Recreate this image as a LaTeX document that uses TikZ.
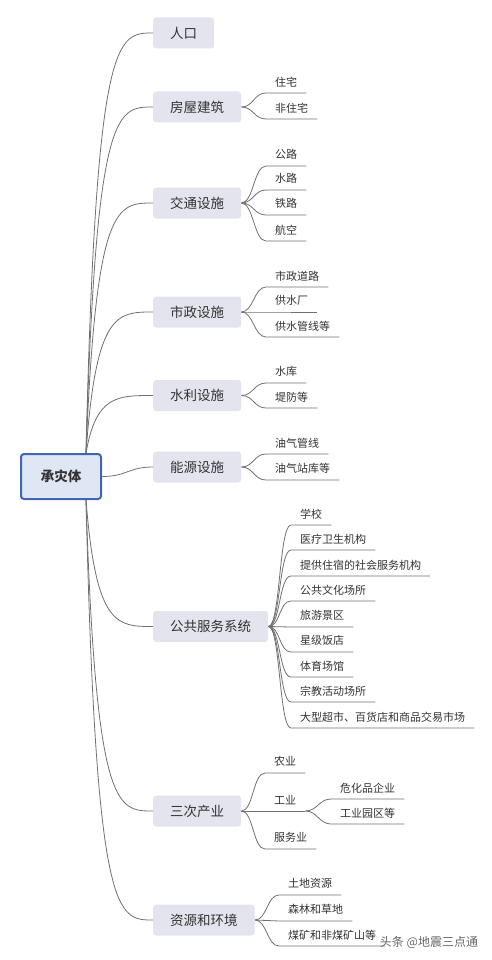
\documentclass[tikz,border=0pt]{standalone}
\usepackage{fontspec}
\setmainfont{Noto Sans CJK SC}
\usetikzlibrary{positioning,calc}

\definecolor{lineGray}{HTML}{707070}
\definecolor{textGray}{HTML}{333333}
\definecolor{rootBlue}{HTML}{4166B4}
\definecolor{rootFill}{HTML}{DFE6F4}
\definecolor{topicFill}{HTML}{E4E4EF}
\definecolor{markGray}{HTML}{666666}

\begin{document}
\begin{tikzpicture}[x=1pt, y=-1pt,
		every node/.style={text=textGray},
		rootTopic/.style={
				draw=rootBlue, line width=2pt, fill=rootFill,
				rounded corners=3pt, minimum width=80pt, minimum height=45pt,
				font=\fontsize{13.5}{16}\selectfont\bfseries
			},
		mainTopic/.style={
				fill=topicFill, rounded corners=3pt, anchor=west,
				minimum height=31pt, inner xsep=17pt, inner ysep=0pt,
				font=\fontsize{13.5}{16}\selectfont
			},
		subTopic/.style={
				anchor=south west, minimum height=22pt,
				inner xsep=9pt, inner ysep=0pt,
				font=\fontsize{11}{13}\selectfont
			},
		branch/.style={draw=lineGray, line width=0.8pt}
	]

	\useasboundingbox (0,0) rectangle (492,960);

	% Central topic
	\node[rootTopic] (root) at (61,476.5) {承灾体};
	\coordinate (rUp) at ([xshift=-16pt]root.north east);
	\coordinate (rDown) at ([xshift=-16pt]root.south east);

	% Main topics
	\node[mainTopic] (T1) at (153,33) {人口};
	\node[mainTopic] (T2) at (153,107) {房屋建筑};
	\node[mainTopic] (T3) at (153,203) {交通设施};
	\node[mainTopic] (T4) at (153,312) {市政设施};
	\node[mainTopic] (T5) at (153,395.5) {水利设施};
	\node[mainTopic] (T6) at (153,467) {能源设施};
	\node[mainTopic] (T7) at (153,626.5) {公共服务系统};
	\node[mainTopic] (T8) at (153,811) {三次产业};
	\node[mainTopic] (T9) at (153,920) {资源和环境};

	\foreach \t in {T1,T2,T3,T4,T5}
	\draw[branch] (rUp) .. controls ($(rUp |- \t.west)+(10,0)$) and ($(\t.west)+(-36,0)$) .. (\t.west);
	\foreach \t in {T7,T8,T9}
	\draw[branch] (rDown) .. controls ($(rDown |- \t.west)+(10,0)$) and ($(\t.west)+(-36,0)$) .. (\t.west);
	\draw[branch] (root.east) .. controls +(25,0) and +(-25,0) .. (T6.west);

	% Subtopics
	\node[subTopic] (T2a) at (266,93) {住宅};
	\node[subTopic] (T2b) at (266,119) {非住宅};

	\node[subTopic] (T3a) at (266,166) {公路};
	\node[subTopic] (T3b) at (266,190) {水路};
	\node[subTopic] (T3c) at (266,215) {铁路};
	\node[subTopic] (T3d) at (266,241) {航空};

	\node[subTopic] (T4a) at (266,287) {市政道路};
	\node[subTopic] (T4b) at (266,312) {供水厂};
	\node[subTopic] (T4c) at (266,337) {供水管线等};

	\node[subTopic] (T5a) at (266,383) {水库};
	\node[subTopic] (T5b) at (266,408) {堤防等};

	\node[subTopic] (T6a) at (266,454) {油气管线};
	\node[subTopic] (T6b) at (266,480) {油气站库等};

	\node[subTopic] (T7a) at (291,525) {学校};
	\node[subTopic] (T7b) at (291,550) {医疗卫生机构};
	\node[subTopic] (T7c) at (291,576) {提供住宿的社会服务机构};
	\node[subTopic] (T7d) at (291,601) {公共文化场所};
	\node[subTopic] (T7e) at (291,627) {旅游景区};
	\node[subTopic] (T7f) at (291,652) {星级饭店};
	\node[subTopic] (T7g) at (291,677) {体育场馆};
	\node[subTopic] (T7h) at (291,702) {宗教活动场所};
	\node[subTopic] (T7i) at (291,728) {大型超市、百货店和商品交易市场};

	\node[subTopic] (T8a) at (265,773) {农业};
	\node[subTopic] (T8b) at (265,811) {工业};
	\node[subTopic] (T8c) at (265,849) {服务业};
	\node[subTopic] (T8ba) at (331,799) {危化品企业};
	\node[subTopic] (T8bb) at (331,824) {工业园区等};

	\node[subTopic] (T9a) at (279,895) {土地资源};
	\node[subTopic] (T9b) at (279,921) {森林和草地};
	\node[subTopic] (T9c) at (279,946) {煤矿和非煤矿山等};

	\foreach \p/\c in {T2/T2a,T2/T2b,T3/T3a,T3/T3b,T3/T3c,T3/T3d,
			T4/T4a,T4/T4b,T4/T4c,T5/T5a,T5/T5b,T6/T6a,T6/T6b,
			T7/T7a,T7/T7b,T7/T7c,T7/T7d,T7/T7e,T7/T7f,T7/T7g,T7/T7h,T7/T7i,
			T8/T8a,T8/T8b,T8/T8c,T9/T9a,T9/T9b,T9/T9c}
	\draw[branch] (\p.east) .. controls +(12,0) and +(-12,0) .. (\c.south west) -- (\c.south east);
	\foreach \c in {T8ba,T8bb}
	\draw[branch] (T8b.south east) .. controls +(12,0) and +(-12,0) .. (\c.south west) -- (\c.south east);

	% Watermark
	\node[font=\fontsize{12}{14}\selectfont, text=markGray] (mark) at (429,942) {头条 @地震三点通};
\end{tikzpicture}
\end{document}
